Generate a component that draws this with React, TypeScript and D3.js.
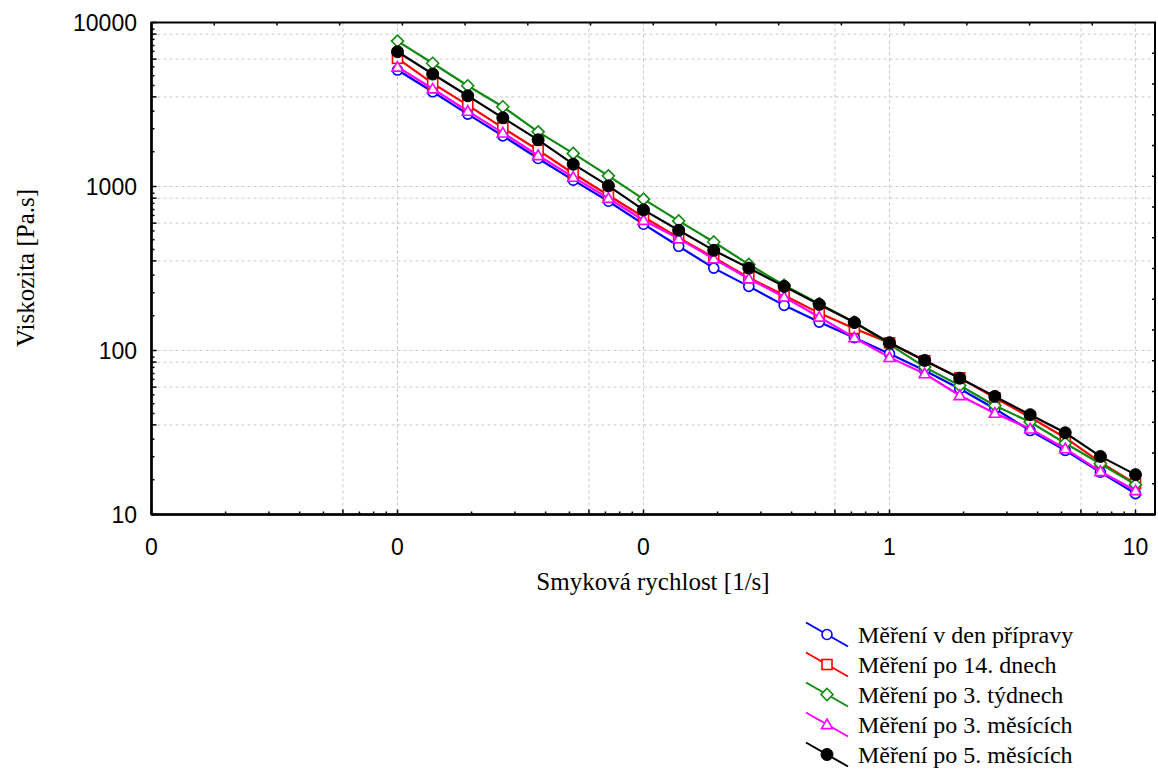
import React from 'react';
import * as d3 from 'd3';

// shear rate [1/s]
const shearRate = [0.01, 0.0139, 0.0193, 0.0268, 0.0373, 0.0518, 0.072, 0.1, 0.139, 0.193, 0.268, 0.373, 0.518, 0.72, 1, 1.39, 1.93, 2.68, 3.73, 5.18, 7.2, 10];

// viscosity [Pa.s]
const denPripravy = [5130, 3780, 2763, 2037, 1482, 1093, 813, 589, 432, 318, 246, 188.5, 149, 119.7, 95.6, 75.6, 58.5, 44.1, 32.5, 24.6, 18.1, 13.4];
const po14dnech = [6045, 4255, 3136, 2279, 1666, 1200, 885, 652, 488, 369, 278, 217, 169, 136, 111.3, 86.5, 68.2, 51.5, 39.2, 29.4, 20.8, 15.4];
const po3tydnech = [7700, 5640, 4113, 3062, 2154, 1591, 1161, 837, 617, 459, 335, 250, 193, 149, 109, 79.2, 61.2, 46.2, 36.6, 27.2, 20.4, 15.2];
const po3mesicich = [5350, 3943, 2882, 2124, 1546, 1140, 848, 623, 481, 363, 274, 212, 160, 119.7, 90.8, 72.2, 53.2, 41.5, 33.3, 25.2, 18.3, 14.0];
const po5mesicich = [6632, 4849, 3574, 2623, 1925, 1368, 1009, 720, 541, 408, 318, 246, 191, 148, 111.6, 87.0, 67.8, 52.5, 40.6, 31.5, 22.6, 17.5];

const seriesNames = [
  'Měření v den přípravy',
  'Měření po 14. dnech',
  'Měření po 3. týdnech',
  'Měření po 3. měsících',
  'Měření po 5. měsících',
];
const seriesValues = [denPripravy, po14dnech, po3tydnech, po3mesicich, po5mesicich];
const seriesColors = ['#0000ff', '#ff0000', '#108a10', '#ff00ff', '#000000'];
const seriesShapes = ['circle', 'square', 'diamond', 'triangle', 'dot'];

const xTickValues = [0.001, 0.01, 0.1, 1, 10];
const xMinorMult = [2, 3, 4, 5, 7, 8, 9];
const xLongMult = [6];
const yTickValues = [10, 100, 1000, 10000];
const yMinorMult = [1.63, 2.25, 2.88, 4.13, 4.74, 5.36, 6.67, 7.24, 7.89, 9.1];
const yLongMult = [3.52, 5.98, 8.49];

const W = 1158;
const H = 773;
const L = 151.5, R = 1155, T = 22.5, B = 514.5;

const x = d3.scaleLog().domain([0.001, 10]).range([L, 1135.5]);
const y = d3.scaleLog().domain([10, 10000]).range([B, T]);
const topLin = d3.scaleLinear().domain([0, 16]).range([L, R]);
const rightLin = d3.scaleLinear().domain([0, 16]).range([B, T]);
const fmt = d3.format('.0f');

const sansFont = '"Liberation Sans", Arial, sans-serif';
const serifFont = '"Liberation Serif", "Times New Roman", serif';

function Marker({ shape, cx, cy, color }: { shape: string; cx: number; cy: number; color: string }) {
  const sw = 1.6;
  if (shape === 'circle') return <circle cx={cx} cy={cy} r={5} fill="white" stroke={color} strokeWidth={sw} />;
  if (shape === 'square') return <rect x={cx - 5} y={cy - 5} width={10} height={10} fill="white" stroke={color} strokeWidth={sw} />;
  if (shape === 'diamond') {
    const s = 6;
    return <path d={`M${cx},${cy - s}L${cx + s},${cy}L${cx},${cy + s}L${cx - s},${cy}Z`} fill="white" stroke={color} strokeWidth={sw} />;
  }
  if (shape === 'triangle') {
    const s = 5.5;
    return <path d={`M${cx},${cy - s}L${cx + s},${cy + s * 0.75}L${cx - s},${cy + s * 0.75}Z`} fill="white" stroke={color} strokeWidth={sw} />;
  }
  return <circle cx={cx} cy={cy} r={6} fill={color} stroke={color} strokeWidth={1} />;
}

export default function App() {
  const decadesX = [0.001, 0.01, 0.1, 1];
  const decadesY = [10, 100, 1000];
  const xMinor: number[] = [];
  const xLong: number[] = [];
  decadesX.forEach((d) => {
    xMinorMult.forEach((m) => xMinor.push(d * m));
    xLongMult.forEach((m) => xLong.push(d * m));
  });
  const yMinor: number[] = [];
  const yLong: number[] = [];
  decadesY.forEach((d) => {
    yMinorMult.forEach((m) => yMinor.push(d * m));
    yLongMult.forEach((m) => yLong.push(d * m));
  });
  const xGrid = [...xLong, ...xTickValues.filter((v) => v > 0.001)];
  const yGrid = [...yLong, ...yTickValues.filter((v) => v < 10000 && v > 10)];

  const line = d3
    .line<number>()
    .x((_, i) => x(shearRate[i]))
    .y((v) => y(v));

  const topTicks = d3.range(1, 16);
  const rightTicks = d3.range(1, 16);

  return (
    <svg width={W} height={H} style={{ position: 'absolute', left: 0, top: 0, background: 'white' }}>
      <rect x={0} y={0} width={W} height={H} fill="white" />
      {/* grid */}
      <g stroke="#c8c8c8" strokeWidth={1} strokeDasharray="3,3">
        {xGrid.map((v, i) => (
          <line key={'gx' + i} x1={x(v)} x2={x(v)} y1={T} y2={B} />
        ))}
        {yGrid.map((v, i) => (
          <line key={'gy' + i} x1={L} x2={R} y1={y(v)} y2={y(v)} />
        ))}
      </g>
      {/* ticks */}
      <g stroke="black" strokeWidth={1.5}>
        {xMinor.map((v, i) => (
          <line key={'xm' + i} x1={x(v)} x2={x(v)} y1={B} y2={B - 3} />
        ))}
        {xLong.concat(xTickValues).map((v, i) => (
          <line key={'xl' + i} x1={x(v)} x2={x(v)} y1={B} y2={B - 5} />
        ))}
        {yMinor.map((v, i) => (
          <line key={'ym' + i} x1={L} x2={L + 3} y1={y(v)} y2={y(v)} />
        ))}
        {yLong.concat(yTickValues).map((v, i) => (
          <line key={'yl' + i} x1={L} x2={L + 5} y1={y(v)} y2={y(v)} />
        ))}
        {topTicks.map((v) => (
          <line key={'tt' + v} x1={topLin(v)} x2={topLin(v)} y1={T} y2={T + 3} />
        ))}
        {rightTicks.map((v) => (
          <line key={'rt' + v} x1={R} x2={R - 3} y1={rightLin(v)} y2={rightLin(v)} />
        ))}
      </g>
      {/* frame */}
      <rect x={L} y={T} width={R - L} height={B - T} fill="none" stroke="black" strokeWidth={2} />
      <line x1={L} x2={L} y1={T} y2={B} stroke="black" strokeWidth={2.5} />
      <line x1={L} x2={R} y1={B} y2={B} stroke="black" strokeWidth={2.5} />

      {/* series */}
      {seriesValues.map((vals, si) => (
        <g key={'s' + si}>
          <path d={line(vals) || ''} fill="none" stroke={seriesColors[si]} strokeWidth={2.2} />
          {vals.map((v, i) => (
            <Marker key={i} shape={seriesShapes[si]} cx={x(shearRate[i])} cy={y(v)} color={seriesColors[si]} />
          ))}
        </g>
      ))}

      {/* tick labels */}
      <g fontFamily={sansFont} fontSize={23} fill="black">
        {yTickValues.map((v) => (
          <text key={'yt' + v} x={137} y={y(v)} textAnchor="end" dominantBaseline="central">
            {v}
          </text>
        ))}
        {xTickValues.map((v) => (
          <text key={'xt' + v} x={x(v)} y={547} textAnchor="middle" dominantBaseline="central">
            {fmt(v)}
          </text>
        ))}
      </g>

      {/* axis titles */}
      <text x={653} y={590} textAnchor="middle" fontFamily={serifFont} fontSize={25}>
        Smyková rychlost [1/s]
      </text>
      <text
        transform={`translate(34,268) rotate(-90)`}
        textAnchor="middle"
        fontFamily={serifFont}
        fontSize={25}
      >
        Viskozita [Pa.s]
      </text>

      {/* legend */}
      {seriesNames.map((name, i) => {
        const cy = 634.5 + i * 30;
        return (
          <g key={'lg' + i}>
            <line x1={806} y1={cy - 12} x2={848} y2={cy + 12} stroke={seriesColors[i]} strokeWidth={2} />
            <Marker shape={seriesShapes[i]} cx={827} cy={cy} color={seriesColors[i]} />
            <text x={858} y={cy + 8} fontFamily={serifFont} fontSize={24}>
              {name}
            </text>
          </g>
        );
      })}
    </svg>
  );
}
